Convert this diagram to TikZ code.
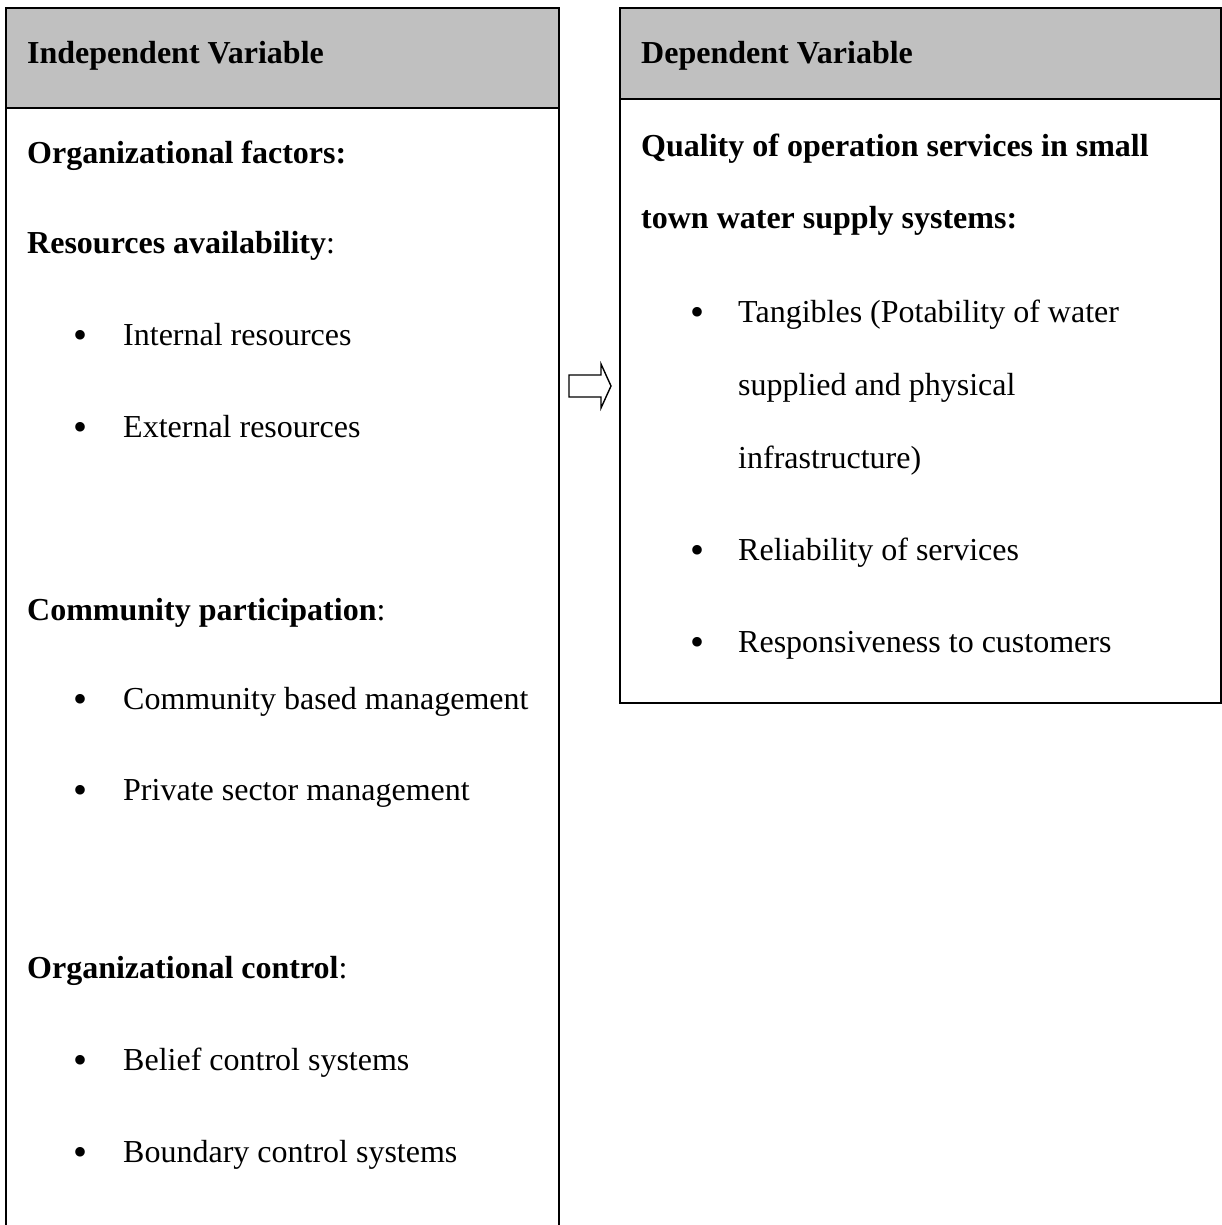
\documentclass[tikz,border=0pt]{standalone}
\usepackage{fontspec}
\setmainfont{Liberation Serif}
\definecolor{hdr}{RGB}{192,192,192}
\begin{document}
\begin{tikzpicture}[x=1pt,y=-1pt,
  frame/.style={line width=1.6pt},
  txt/.style={anchor=base west, inner sep=0pt, font=\fontsize{32}{38}\selectfont},
  bul/.style={anchor=base, inner sep=0pt, font=\fontsize{40}{44}\selectfont}]
\useasboundingbox (0,0) rectangle (1222,1225);
% left box
\fill[hdr] (6,8) rectangle (559,108);
\draw[frame] (6,1230) -- (6,8) -- (559,8) -- (559,1230);
\draw[frame] (6,108) -- (559,108);
% right box
\fill[hdr] (620,8) rectangle (1221,99);
\draw[frame] (620,8) rectangle (1221,703);
\draw[frame] (620,99) -- (1221,99);
% arrow
\draw[line width=1.4pt, line join=miter] (569,375) -- (601,375) -- (601,364) -- (611,386) -- (601,408) -- (601,397) -- (569,397) -- cycle;
% left texts
\node[txt] (ivh) at (27,64) {\textbf{Independent Variable}};
\node[txt] (of) at (27,164) {\textbf{Organizational factors:}};
\node[txt] (ra) at (27,253) {\textbf{Resources availability}:};
\node[bul] (b1) at (81,348) {•};
\node[txt] (ir) at (123,345) {Internal resources};
\node[bul] (b2) at (81,440) {•};
\node[txt] (er) at (123,437) {External resources};
\node[txt] (cp) at (27,620) {\textbf{Community participation}:};
\node[bul] (b3) at (81,712) {•};
\node[txt] (cb) at (123,709) {Community based management};
\node[bul] (b4) at (81,803) {•};
\node[txt] (ps) at (123,800) {Private sector management};
\node[txt] (oc) at (27,978) {\textbf{Organizational control}:};
\node[bul] (b5) at (81,1073) {•};
\node[txt] (bc) at (123,1070) {Belief control systems};
\node[bul] (b6) at (81,1165) {•};
\node[txt] (bd) at (123,1162) {Boundary control systems};
% right texts
\node[txt] (dvh) at (641,64) {\textbf{Dependent Variable}};
\node[txt] (q1) at (641,157) {\textbf{Quality of operation services in small}};
\node[txt] (q2) at (641,228) {\textbf{town water supply systems:}};
\node[bul] (b7) at (697,325) {•};
\node[txt] (t1) at (738,322) {Tangibles (Potability of water};
\node[txt] (t2) at (738,395) {supplied and physical};
\node[txt] (t3) at (738,468) {infrastructure)};
\node[bul] (b8) at (697,563) {•};
\node[txt] (rl) at (738,560) {Reliability of services};
\node[bul] (b9) at (697,655) {•};
\node[txt] (rs) at (738,652) {Responsiveness to customers};
\end{tikzpicture}
\end{document}
